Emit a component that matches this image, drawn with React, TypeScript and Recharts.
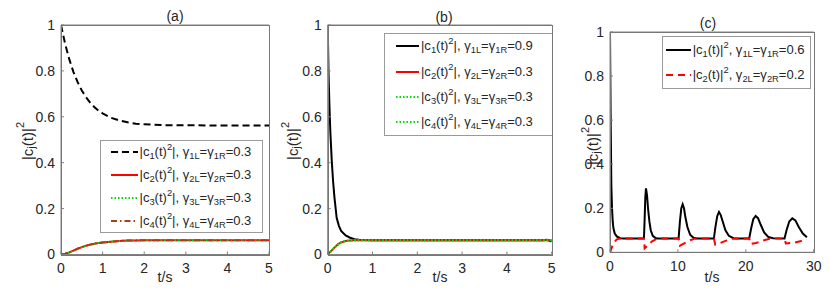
import React from 'react';
import { LineChart, Line, XAxis, YAxis, Legend } from 'recharts';

const FONT = '"Liberation Sans", Arial, Helvetica, sans-serif';

// ---------- Panel (a) ----------
const tA = [0, 0.1, 0.2, 0.3, 0.4, 0.5, 0.6, 0.7, 0.8, 0.9, 1.0, 1.2, 1.4, 1.6, 1.8, 2.0, 2.5, 3, 3.5, 4, 4.5, 5];
const c1A = [1.0, 0.917, 0.85, 0.795, 0.751, 0.715, 0.686, 0.662, 0.643, 0.627, 0.615, 0.596, 0.584, 0.576, 0.57, 0.567, 0.5635, 0.5628, 0.5626, 0.5625, 0.5625, 0.5625];
const c234A = [0, 0.003, 0.009, 0.017, 0.025, 0.032, 0.038, 0.043, 0.047, 0.05, 0.052, 0.056, 0.059, 0.0605, 0.0615, 0.062, 0.0624, 0.0625, 0.0625, 0.0625, 0.0625, 0.0625];

// ---------- Panel (b) ----------
const tB = [0, 0.02, 0.04, 0.06, 0.09, 0.12, 0.15, 0.2, 0.25, 0.3, 0.4, 0.5, 0.6, 0.7, 0.8, 1.0, 1.5, 2, 3, 4, 4.8, 4.9, 5];
const c1B = [1.0, 0.78, 0.64, 0.53, 0.41, 0.32, 0.25, 0.16, 0.125, 0.103, 0.083, 0.073, 0.067, 0.064, 0.063, 0.0625, 0.0625, 0.0625, 0.0625, 0.0625, 0.0625, 0.064, 0.056];
const c234B = [0, 0.004, 0.008, 0.012, 0.018, 0.024, 0.03, 0.039, 0.048, 0.053, 0.059, 0.061, 0.062, 0.0624, 0.0625, 0.0625, 0.0625, 0.0625, 0.0625, 0.0625, 0.0625, 0.0625, 0.0625];

// ---------- Panel (c) ----------
const tC1 = [0, 0.1, 0.2, 0.3, 0.4, 0.5, 0.7, 1.0, 1.5, 2, 5.0, 5.1, 5.2, 5.3, 5.45, 5.6, 5.8, 6.0, 6.3, 6.7, 7, 10.1, 10.3, 10.5, 10.7, 10.9, 11.1, 11.4, 11.8, 12.3, 12.8, 15.3, 15.5, 15.8, 16.05, 16.3, 16.6, 17.0, 17.5, 18.2, 18.6, 20.5, 20.8, 21.1, 21.45, 21.8, 22.2, 22.7, 23.3, 24, 25.7, 26.0, 26.4, 26.85, 27.3, 27.8, 28.4, 29.0];
const c1C = [1.0, 0.6, 0.3, 0.2, 0.14, 0.11, 0.085, 0.072, 0.064, 0.0625, 0.0625, 0.15, 0.25, 0.29, 0.26, 0.2, 0.14, 0.1, 0.075, 0.065, 0.0625, 0.0625, 0.14, 0.2, 0.218, 0.2, 0.16, 0.115, 0.08, 0.066, 0.0625, 0.0625, 0.11, 0.165, 0.183, 0.17, 0.14, 0.1, 0.075, 0.064, 0.0625, 0.0625, 0.11, 0.15, 0.165, 0.155, 0.125, 0.09, 0.07, 0.0635, 0.0625, 0.1, 0.14, 0.154, 0.145, 0.115, 0.085, 0.068];
const tC2 = [0, 0.3, 0.6, 1.0, 1.5, 2, 5.0, 5.1, 5.6, 6.2, 6.8, 7.2, 10.1, 10.3, 11.0, 11.8, 12.5, 13, 15.3, 15.5, 16.2, 17, 18, 18.5, 20.5, 20.7, 21.5, 22.5, 23.5, 24, 25.7, 25.9, 27, 28, 29];
const c2C = [0, 0.025, 0.045, 0.059, 0.0625, 0.0625, 0.0625, 0.018, 0.033, 0.05, 0.06, 0.0625, 0.0625, 0.03, 0.042, 0.055, 0.062, 0.0625, 0.0625, 0.035, 0.042, 0.052, 0.061, 0.0625, 0.0625, 0.038, 0.042, 0.053, 0.061, 0.0625, 0.0625, 0.04, 0.043, 0.05, 0.057];

// ---------- ticks & labels ----------
const xTicks5 = [0, 1, 2, 3, 4, 5];
const xTicks30 = [0, 10, 20, 30];
const yTicks = [0, 0.2, 0.4, 0.6, 0.8, 1];
const titles = ['(a)', '(b)', '(c)'];
const xLabel = 't/s';

const legendA = [
  { n: '1', g: '0.3', color: '#000000', dash: '7 4', w: 2 },
  { n: '2', g: '0.3', color: '#ff0000', dash: undefined, w: 2 },
  { n: '3', g: '0.3', color: '#00dd00', dash: '1.5 2', w: 2 },
  { n: '4', g: '0.3', color: '#a8401a', dash: '6 3 1.5 3', w: 2 },
];
const legendB = [
  { n: '1', g: '0.9', color: '#000000', dash: undefined, w: 2 },
  { n: '2', g: '0.3', color: '#ff0000', dash: undefined, w: 2 },
  { n: '3', g: '0.3', color: '#00dd00', dash: '1.5 2', w: 2 },
  { n: '4', g: '0.3', color: '#00dd00', dash: '1.5 2', w: 2 },
];
const legendC = [
  { n: '1', g: '0.6', color: '#000000', dash: undefined, w: 2 },
  { n: '2', g: '0.2', color: '#ff0000', dash: '7 5', w: 2 },
];

const dataA = tA.map((t, i) => ({ t, c1: c1A[i], c2: c234A[i], c3: c234A[i], c4: c234A[i] }));
const dataB = tB.map((t, i) => ({ t, c1: c1B[i], c2: c234B[i], c3: c234B[i], c4: c234B[i] }));
const dataC1 = tC1.map((t, i) => ({ t, v: c1C[i] }));
const dataC2 = tC2.map((t, i) => ({ t, v: c2C[i] }));

const AXIS = '#808080';
const TXT = '#262626';
const tickStyle = { fontSize: 14, fontFamily: FONT, fill: TXT };

const subS: React.CSSProperties = { fontSize: '0.72em', verticalAlign: '-0.3em', lineHeight: 0 };
const supS: React.CSSProperties = { fontSize: '0.72em', verticalAlign: '0.6em', lineHeight: 0 };

function LegendText({ n, g, outer }: { n: string; g: string; outer: boolean }) {
  if (outer) {
    return (
      <span>
        |c<span style={subS}>{n}</span>(t)|<span style={supS}>2</span>, γ<span style={subS}>{n}L</span>=γ
        <span style={subS}>{n}R</span>={g}
      </span>
    );
  }
  return (
    <span>
      |c<span style={subS}>{n}</span>(t)<span style={supS}>2</span>|, γ<span style={subS}>{n}L</span>=γ
      <span style={subS}>{n}R</span>={g}
    </span>
  );
}

function LegendBox({ items, sx, sw, tx, outer }: any) {
  return (
    <div
      style={{
        boxSizing: 'border-box',
        width: '100%',
        height: '100%',
        border: '1px solid #9a9a9a',
        background: '#fff',
        display: 'flex',
        flexDirection: 'column',
        justifyContent: 'space-around',
        fontFamily: FONT,
        fontSize: 13,
        color: TXT,
        lineHeight: 1,
      }}
    >
      {items.map((it: any) => (
        <div key={it.n} style={{ position: 'relative', height: 16 }}>
          <svg width={sw} height={10} style={{ position: 'absolute', left: sx, top: 3 }}>
            <line x1={0} y1={5} x2={sw} y2={5} stroke={it.color} strokeWidth={it.w} strokeDasharray={it.dash} />
          </svg>
          <span style={{ position: 'absolute', left: tx, top: 1, whiteSpace: 'nowrap' }}>
            <LegendText n={it.n} g={it.g} outer={outer} />
          </span>
        </div>
      ))}
    </div>
  );
}

function YLab({ cx, cy }: { cx: number; cy: number }) {
  return (
    <text
      transform={`rotate(-90 ${cx} ${cy})`}
      x={cx}
      y={cy}
      textAnchor="middle"
      dominantBaseline="central"
      fontSize={15}
      fontFamily={FONT}
      fill={TXT}
    >
      |c<tspan fontSize={11} dy={4}>j</tspan>
      <tspan dy={-4}>(t)|</tspan>
      <tspan fontSize={11} dy={-7}>2</tspan>
    </text>
  );
}

function PlainText({ x, y, text, size }: { x: number; y: number; text: string; size: number }) {
  return (
    <text x={x} y={y} textAnchor="middle" fontSize={size} fontFamily={FONT} fill={TXT}>
      {text}
    </text>
  );
}

type PanelGeom = {
  left: number;
  width: number;
  margin: { top: number; right: number; bottom: number; left: number };
  yw: number;
  titleX: number;
  titleY: number;
  xlabX: number;
  xlabY: number;
  ylabX: number;
  ylabY: number;
  legend: { left: number; top: number; width: number; height: number };
  sx: number;
  sw: number;
  tx: number;
};

// top margin includes a 1px strip used by the top (title) axis
const gA: PanelGeom = {
  left: 0, width: 280, margin: { top: 24, right: 11, bottom: 3.5, left: 0 }, yw: 61,
  titleX: 175, titleY: 21, xlabX: 165, xlabY: 282, ylabX: 27, ylabY: 141,
  legend: { left: 100, top: 140, width: 163, height: 93 }, sx: 10, sw: 27, tx: 38.5,
};
const gB: PanelGeom = {
  left: 280, width: 280, margin: { top: 24, right: 8.3, bottom: 3.5, left: 0 }, yw: 47.7,
  titleX: 164, titleY: 22, xlabX: 160, xlabY: 282, ylabX: 12, ylabY: 141,
  legend: { left: 104.3, top: 32.7, width: 169, height: 103.3 }, sx: 10.7, sw: 23.3, tx: 35.7,
};
const gC: PanelGeom = {
  left: 560, width: 270, margin: { top: 31, right: 16.3, bottom: 5.7, left: 0 }, yw: 50,
  titleX: 148, titleY: 27.5, xlabX: 152, xlabY: 282, ylabX: 32, ylabY: 146,
  legend: { left: 101.7, top: 36, width: 149, height: 53 }, sx: 3, sw: 25, tx: 30,
};

// outline of each axes box (all four sides), from the panel layout above; drawn above the charts
function BoxOutline({ g }: { g: PanelGeom }) {
  const l = Math.round(g.left + g.margin.left + g.yw);
  const t = Math.round(g.margin.top + 1);
  const r = Math.round(g.left + g.width - g.margin.right);
  const b = Math.round(298 - g.margin.bottom - 40);
  return (
    <div
      style={{
        position: 'absolute',
        zIndex: 10,
        left: l,
        top: t,
        width: r - l + 1,
        height: b - t + 1,
        boxSizing: 'border-box',
        border: '1px solid #777777',
        pointerEvents: 'none',
      }}
    />
  );
}

function Frame(g: PanelGeom, title: string, xTicks: number[], xMax: number) {
  return [
    <XAxis
      key="xb"
      dataKey="t"
      type="number"
      domain={[0, xMax]}
      ticks={xTicks}
      height={40}
      stroke={AXIS}
      tickSize={-3}
      tickMargin={12}
      tick={tickStyle}
      allowDataOverflow
      label={{ content: () => <PlainText x={g.xlabX} y={g.xlabY} text={xLabel} size={14} /> }}
    />,
    <XAxis
      key="xt"
      xAxisId="top"
      orientation="top"
      dataKey="t"
      type="number"
      domain={[0, xMax]}
      ticks={xTicks}
      height={1}
      stroke={AXIS}
      tickSize={-3}
      tick={false}
      allowDataOverflow
      label={{ content: () => <PlainText x={g.titleX} y={g.titleY} text={title} size={14} /> }}
    />,
    <YAxis
      key="yl"
      type="number"
      domain={[0, 1]}
      ticks={yTicks}
      width={g.yw}
      stroke={AXIS}
      tickSize={-3}
      tickMargin={9}
      tick={tickStyle}
      allowDataOverflow
      label={{ content: () => <YLab cx={g.ylabX} cy={g.ylabY} /> }}
    />,
  ];
}

function legendEl(g: PanelGeom, items: any[], outer: boolean) {
  return (
    <Legend
      layout="vertical"
      align="center"
      verticalAlign="middle"
      wrapperStyle={{ left: g.legend.left, top: g.legend.top, width: g.legend.width, height: g.legend.height }}
      content={() => <LegendBox items={items} sx={g.sx} sw={g.sw} tx={g.tx} outer={outer} />}
    />
  );
}

export default function App() {
  return (
    <div style={{ position: 'absolute', left: 0, top: 0, width: 830, height: 298, background: '#fff', overflow: 'hidden' }}>
      <div style={{ position: 'absolute', left: gA.left, top: 0 }}>
        <LineChart width={gA.width} height={298} data={dataA} margin={gA.margin}>
          {Frame(gA, titles[0], xTicks5, 5)}
          <Line dataKey="c1" stroke="#000" strokeWidth={2} strokeDasharray="7 4" dot={false} isAnimationActive={false} />
          <Line dataKey="c2" stroke="#ff0000" strokeWidth={2} dot={false} isAnimationActive={false} />
          <Line dataKey="c3" stroke="#00dd00" strokeWidth={2} strokeDasharray="1.5 2" dot={false} isAnimationActive={false} />
          <Line dataKey="c4" stroke="#a8401a" strokeWidth={2} strokeDasharray="6 3 1.5 3" dot={false} isAnimationActive={false} />
          {legendEl(gA, legendA, false)}
        </LineChart>
      </div>
      <div style={{ position: 'absolute', left: gB.left, top: 0 }}>
        <LineChart width={gB.width} height={298} data={dataB} margin={gB.margin}>
          {Frame(gB, titles[1], xTicks5, 5)}
          <Line dataKey="c1" stroke="#000" strokeWidth={2} dot={false} isAnimationActive={false} />
          <Line dataKey="c2" stroke="#ff0000" strokeWidth={2} dot={false} isAnimationActive={false} />
          <Line dataKey="c3" stroke="#00dd00" strokeWidth={2} strokeDasharray="1.5 2" dot={false} isAnimationActive={false} />
          <Line dataKey="c4" stroke="#00dd00" strokeWidth={2} strokeDasharray="1.5 2" dot={false} isAnimationActive={false} />
          {legendEl(gB, legendB, false)}
        </LineChart>
      </div>
      <div style={{ position: 'absolute', left: gC.left, top: 0 }}>
        <LineChart width={gC.width} height={298} margin={gC.margin}>
          {Frame(gC, titles[2], xTicks30, 30)}
          <Line data={dataC1} dataKey="v" name="c1" stroke="#000" strokeWidth={2} dot={false} isAnimationActive={false} />
          <Line data={dataC2} dataKey="v" name="c2" stroke="#ff0000" strokeWidth={2} strokeDasharray="7 5" dot={false} isAnimationActive={false} />
          {legendEl(gC, legendC, true)}
        </LineChart>
      </div>
      <BoxOutline g={gA} />
      <BoxOutline g={gB} />
      <BoxOutline g={gC} />
    </div>
  );
}
